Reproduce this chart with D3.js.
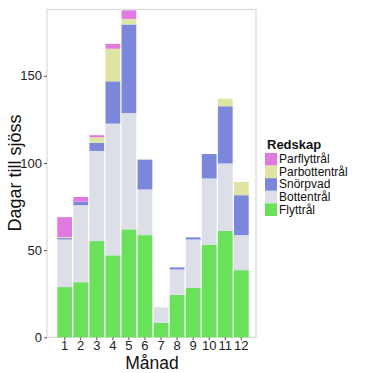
<!DOCTYPE html>
<html>
<head>
<meta charset="utf-8">
<script src="https://cdn.jsdelivr.net/npm/d3@7"></script>
<style>
  body { margin: 0; background: #fff; }
  text { font-family: "Liberation Sans", Arial, sans-serif; }
</style>
</head>
<body>
<svg width="373" height="373"></svg>
<script>
// data
var months = ["1","2","3","4","5","6","7","8","9","10","11","12"];
var gears = ["Flyttrål","Bottentrål","Snörpvad","Parbottentrål","Parflyttrål"];
var flyttral      = [28.8, 31.6, 55.2, 47.0, 61.9, 58.6, 8.2, 24.3, 28.3, 53.0, 61.0, 38.5];
var bottentral    = [27.3, 44.2, 51.7, 75.6, 66.7, 26.2, 9.0, 14.6, 27.8, 38.1, 38.7, 20.1];
var snorpvad      = [0.8, 2.0, 4.6, 24.2, 50.8, 17.1, 0, 1.2, 1.2, 14.0, 32.8, 22.9];
var parbottentral = [0.6, 0, 3.2, 18.7, 3.2, 0, 0, 0, 0, 0, 4.3, 7.6];
var parflyttral   = [11.4, 2.7, 1.2, 2.8, 4.9, 0, 0, 0, 0, 0, 0, 0];
var yTicks = [0, 50, 100, 150];

var colors = {
  "Flyttrål": "#6be05a",
  "Bottentrål": "#dcdfe7",
  "Snörpvad": "#7b87da",
  "Parbottentrål": "#dfe4a4",
  "Parflyttrål": "#e07ae0"
};

var rows = months.map(function(m, i) {
  return {
    month: m,
    "Flyttrål": flyttral[i],
    "Bottentrål": bottentral[i],
    "Snörpvad": snorpvad[i],
    "Parbottentrål": parbottentral[i],
    "Parflyttrål": parflyttral[i]
  };
});

var svg = d3.select("svg");

var x = d3.scaleBand()
    .domain(months)
    .range([56, 250])
    .padding(0.08);

var y = d3.scaleLinear()
    .domain([0, 188])
    .range([337.3, 9.5]);

// panel border
svg.append("rect")
    .attr("x", 47).attr("y", 9.5)
    .attr("width", 209).attr("height", 327.8)
    .attr("fill", "none")
    .attr("stroke", "#d9d9d9")
    .attr("stroke-width", 1.2);

var stack = d3.stack().keys(gears)(rows);

svg.append("g").selectAll("g")
  .data(stack)
  .enter().append("g")
    .attr("fill", function(d) { return colors[d.key]; })
  .selectAll("rect")
  .data(function(d) { return d; })
  .enter().append("rect")
    .attr("x", function(d) { return x(d.data.month); })
    .attr("width", x.bandwidth())
    .attr("y", function(d) { return y(d[1]); })
    .attr("height", function(d) { return y(d[0]) - y(d[1]); });

// y axis
var yAxis = svg.append("g")
    .attr("transform", "translate(47,0)")
    .call(d3.axisLeft(y).tickValues(yTicks).tickSize(3).tickPadding(2));
yAxis.select(".domain").remove();
yAxis.selectAll("line").attr("stroke", "#555");
yAxis.selectAll("text").attr("font-size", 13).attr("fill", "#222");

// x axis
var xAxis = svg.append("g")
    .attr("transform", "translate(0,337.3)")
    .call(d3.axisBottom(x).tickSize(3).tickPadding(0));
xAxis.select(".domain").remove();
xAxis.selectAll("line").attr("stroke", "#555");
xAxis.selectAll("text").attr("font-size", 13).attr("fill", "#222");

// axis titles
svg.append("text")
    .attr("x", 152).attr("y", 369)
    .attr("text-anchor", "middle")
    .attr("font-size", 17.5)
    .attr("fill", "#111")
    .text("Månad");

svg.append("text")
    .attr("transform", "translate(21,173) rotate(-90)")
    .attr("text-anchor", "middle")
    .attr("font-size", 18)
    .attr("fill", "#111")
    .text("Dagar till sjöss");

// legend
var step = 12.6;
var legend = svg.append("g").attr("transform", "translate(265,138)");
legend.append("text")
    .attr("x", 2).attr("y", 11)
    .attr("font-size", 13)
    .attr("font-weight", "bold")
    .attr("fill", "#111")
    .text("Redskap");

var items = gears.slice().reverse();
var li = legend.selectAll("g.item")
  .data(items)
  .enter().append("g")
    .attr("class", "item")
    .attr("transform", function(d, i) { return "translate(0," + (15 + i * step) + ")"; });
li.append("rect")
    .attr("width", 12).attr("height", step)
    .attr("fill", function(d) { return colors[d]; });
li.append("text")
    .attr("x", 14).attr("y", 10.2)
    .attr("font-size", 12)
    .attr("fill", "#111")
    .text(function(d) { return d; });
</script>
</body>
</html>
